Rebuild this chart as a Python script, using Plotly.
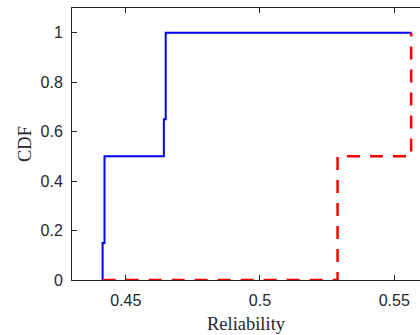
import plotly.graph_objects as go

blue_x = [0.4414, 0.4414, 0.4421, 0.4642, 0.4649, 0.5565]
blue_y = [0.0, 0.15, 0.5, 0.65, 1.0, 1.0]
red_x = [0.4414, 0.5289, 0.5563]
red_y = [0.0, 0.5, 1.0]

x_ticks = [0.45, 0.5, 0.55]
x_tick_labels = ["0.45", "0.5", "0.55"]
y_ticks = [0, 0.2, 0.4, 0.6, 0.8, 1]
y_tick_labels = ["0", "0.2", "0.4", "0.6", "0.8", "1"]

fig = go.Figure()
fig.add_trace(go.Scatter(x=blue_x, y=blue_y, mode="lines", line_shape="hv",
                         line=dict(color="#0000ff", width=2), showlegend=False))
fig.add_trace(go.Scatter(x=red_x, y=red_y, mode="lines", line_shape="hv",
                         line=dict(color="#ff0000", width=2.5, dash="13px,10px"),
                         showlegend=False))

axis_col = "#262626"
tick_font = dict(family="Arial, Liberation Sans, sans-serif", size=16, color=axis_col)
title_font = dict(family="Times New Roman, Liberation Serif, serif", size=18.5, color=axis_col)
fig.update_layout(
    width=420, height=335,
    margin=dict(l=72, r=0, t=8, b=55),
    paper_bgcolor="white", plot_bgcolor="white",
    xaxis=dict(range=[0.43, 0.5596], tickvals=x_ticks, ticktext=x_tick_labels,
               ticks="inside", ticklen=5, tickcolor=axis_col, showgrid=False,
               zeroline=False, showline=True, linecolor=axis_col, linewidth=1,
               mirror="ticks", ticklabelstandoff=6,
               tickfont=tick_font,
               title=dict(text="Reliability", standoff=8, font=title_font)),
    yaxis=dict(range=[0, 1.1], tickvals=y_ticks, ticktext=y_tick_labels,
               ticks="inside", ticklen=5, tickcolor=axis_col, showgrid=False,
               zeroline=False, showline=True, linecolor=axis_col, linewidth=1,
               ticklabelstandoff=5,
               tickfont=tick_font,
               title=dict(text="CDF", standoff=4, font=title_font)),
)

fig.write_html("out.html")
